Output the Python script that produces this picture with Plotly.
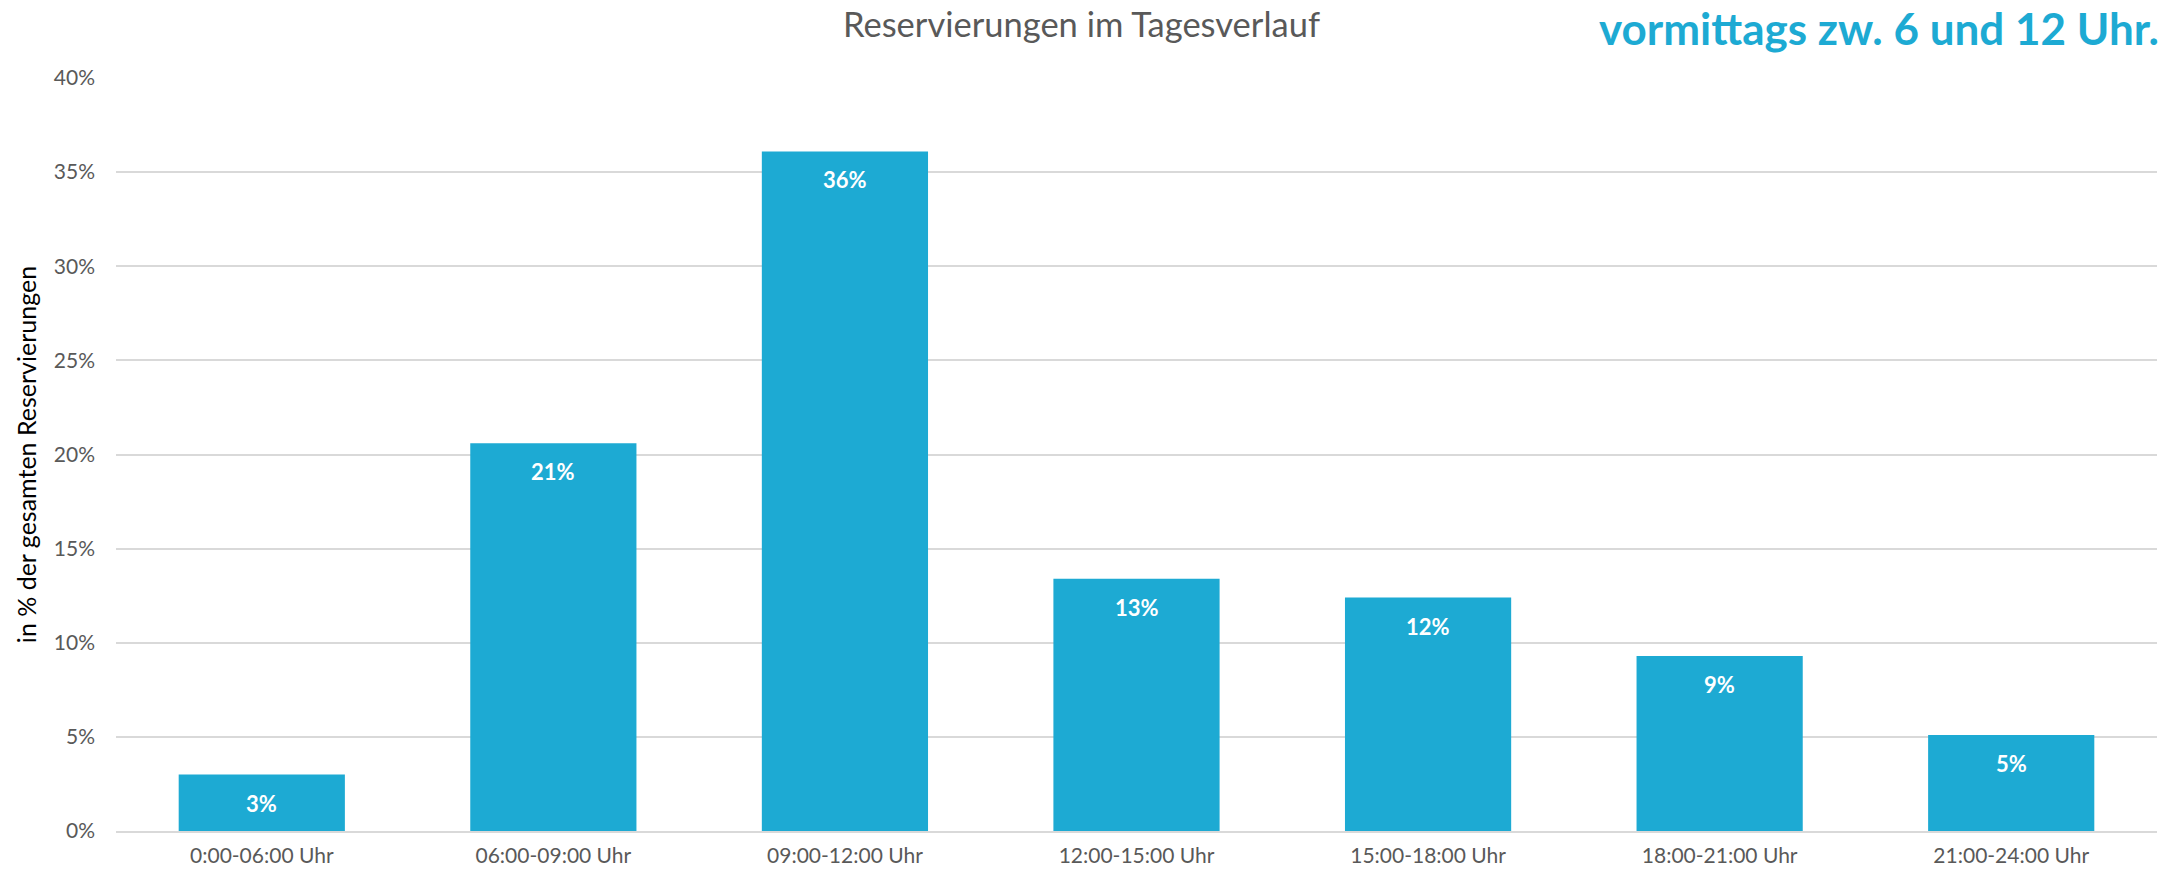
import plotly.graph_objects as go

# Daten
zeitfenster = ['0:00-06:00 Uhr', '06:00-09:00 Uhr', '09:00-12:00 Uhr', '12:00-15:00 Uhr',
               '15:00-18:00 Uhr', '18:00-21:00 Uhr', '21:00-24:00 Uhr']
anteil = [3.0, 20.6, 36.1, 13.4, 12.4, 9.3, 5.1]
y_ticks = [0, 5, 10, 15, 20, 25, 30, 35, 40]
y_ticktext = [f'{t}%' for t in y_ticks]

BLAU = '#1DAAD3'
GRAU = '#595959'
FONT = 'Lato'

fig = go.Figure()
fig.add_trace(go.Bar(
    x=zeitfenster,
    y=anteil,
    marker=dict(color=BLAU, line=dict(width=0)),
    hoverinfo='x+y',
))

# Wertelabels innen oben
for kat, wert in zip(zeitfenster, anteil):
    fig.add_annotation(
        x=kat, y=wert, text=f'<b>{wert:.0f}%</b>',
        showarrow=False, yanchor='top', yshift=-13,
        font=dict(family=FONT, size=22, color='white'),
    )

fig.add_annotation(
    xref='paper', yref='paper', x=1.0, y=1.0, xshift=4, yshift=50,
    xanchor='right', yanchor='middle',
    text='<b>vormittags zw. 6 und 12 Uhr.</b>', showarrow=False,
    font=dict(family=FONT, size=44, color=BLAU),
)

fig.update_layout(
    width=2163, height=873,
    margin=dict(l=116, r=6, t=78, b=42),
    paper_bgcolor='white', plot_bgcolor='white',
    bargap=0.43,
    showlegend=False,
    title=dict(text='Reservierungen im Tagesverlauf', x=0.5, xanchor='center',
               y=0.971, yanchor='middle',
               font=dict(family=FONT, size=34.5, color=GRAU)),
    font=dict(family=FONT, color=GRAU),
)

fig.update_yaxes(
    range=[0, 40], tickvals=y_ticks, ticktext=y_ticktext,
    showgrid=True, gridcolor='#D9D9D9', gridwidth=1.5,
    zeroline=False, showline=False,
    tickfont=dict(family=FONT, size=21, color=GRAU),
    ticks='', ticklabelstandoff=20,
    title=dict(text='in % der gesamten Reservierungen', standoff=10,
               font=dict(family=FONT, size=25, color='black')),
)
fig.update_xaxes(
    showline=True, linecolor='#D9D9D9', linewidth=1.5,
    tickfont=dict(family=FONT, size=21, color=GRAU),
    ticks='', showgrid=False, ticklabelstandoff=5,
)

# Body-Rand entfernen, damit die Grafik bündig im Fenster sitzt
fig.write_html('out.html', config={'displayModeBar': False},
               post_script="document.body.style.margin='0';")
